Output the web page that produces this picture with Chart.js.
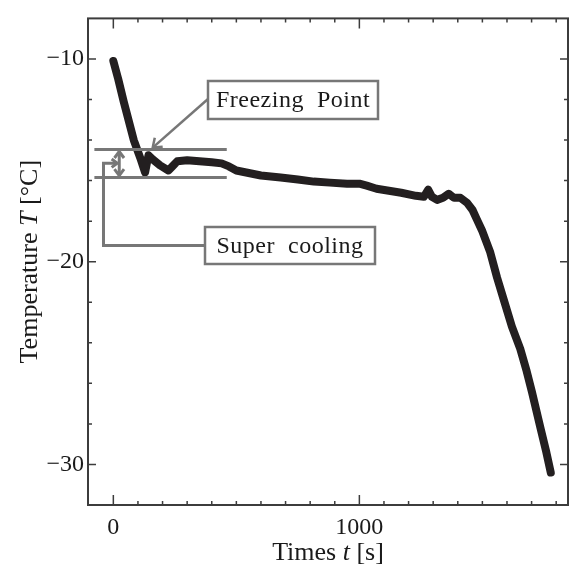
<!DOCTYPE html>
<html>
<head>
<meta charset="utf-8">
<script src="https://cdn.jsdelivr.net/npm/chart.js@4.4.1/dist/chart.umd.min.js"></script>
<style>
  html, body { margin: 0; padding: 0; background: #fff; }
  #wrap { width: 571px; height: 567px; }
</style>
</head>
<body>
<div id="wrap"><canvas id="tempChart" width="571" height="567"></canvas></div>
<script>
// Cooling curve data
const times = [0, 20, 42, 83, 110, 129, 137, 143, 160, 190, 224, 240, 260, 300, 350, 400, 440, 470, 500,
    540, 600, 680, 750, 815, 880, 950, 1000, 1030, 1070, 1120, 1170, 1230, 1262, 1280, 1295, 1316,
    1340, 1363, 1385, 1411, 1438, 1460, 1477, 1500, 1531, 1560, 1590, 1620, 1654, 1680, 1701, 1736, 1760, 1778];
const temps = [-10.1, -11.0, -12.1, -14.0, -14.9, -15.6, -15.1, -14.75, -14.95, -15.25, -15.5, -15.3, -15.05,
    -15.0, -15.05, -15.1, -15.15, -15.3, -15.5, -15.6, -15.75, -15.85, -15.95, -16.05, -16.1, -16.15,
    -16.15, -16.25, -16.4, -16.5, -16.6, -16.75, -16.8, -16.45, -16.8, -16.95, -16.85, -16.65, -16.85,
    -16.85, -17.1, -17.45, -17.9, -18.5, -19.5, -20.8, -22.0, -23.2, -24.3, -25.4, -26.4, -28.2, -29.4, -30.4];

const xMajorLabels = [0, 1000];
const yMajorLabels = [-10, -20, -30];

// annotation anchors (data units)
const freezingT = -14.47;
const superT = -15.85;
const refLineFrom = -77;
const refLineTo = 461;

const AXIS_COLOR = '#3c3c3c';
const NOTE_COLOR = '#777777';
const SERIF = '"Liberation Serif", "DejaVu Serif", serif';

function minusLabel(v) {
    return v < 0 ? '\u2212' + Math.abs(v) : String(v);
}

// frame, inward ticks, titles and annotations
const decorations = {
    id: 'decorations',
    afterDraw(chart) {
        const ctx = chart.ctx;
        const area = chart.chartArea;
        const xs = chart.scales.x;
        const ys = chart.scales.y;

        ctx.save();
        ctx.strokeStyle = AXIS_COLOR;
        ctx.lineWidth = 2;
        ctx.strokeRect(area.left, area.top, area.right - area.left, area.bottom - area.top);

        ctx.lineWidth = 1.5;
        ctx.beginPath();
        for (let t = 0; t <= 1800; t += 100) {
            const px = xs.getPixelForValue(t);
            const len = xMajorLabels.includes(t) ? 10 : 4;
            ctx.moveTo(px, area.bottom); ctx.lineTo(px, area.bottom - len);
            ctx.moveTo(px, area.top); ctx.lineTo(px, area.top + len);
        }
        for (let v = -30; v <= -10; v += 2) {
            const py = ys.getPixelForValue(v);
            const len = yMajorLabels.includes(v) ? 8 : 4;
            ctx.moveTo(area.left, py); ctx.lineTo(area.left + len, py);
            ctx.moveTo(area.right, py); ctx.lineTo(area.right - len, py);
        }
        ctx.stroke();

        // axis titles with italic symbols
        ctx.fillStyle = '#1a1a1a';
        ctx.textBaseline = 'middle';
        function drawParts(parts, cx, cy) {
            let total = 0;
            parts.forEach(p => { ctx.font = p[1] + ' 26px ' + SERIF; total += ctx.measureText(p[0]).width; });
            let x = cx - total / 2;
            ctx.textAlign = 'left';
            parts.forEach(p => {
                ctx.font = p[1] + ' 26px ' + SERIF;
                ctx.fillText(p[0], x, cy);
                x += ctx.measureText(p[0]).width;
            });
        }
        drawParts([['Times ', 'normal'], ['t', 'italic'], [' [s]', 'normal']], (area.left + area.right) / 2, 553);
        ctx.save();
        ctx.translate(30, (area.top + area.bottom) / 2);
        ctx.rotate(-Math.PI / 2);
        drawParts([['Temperature ', 'normal'], ['T', 'italic'], [' [\u00B0C]', 'normal']], 0, 0);
        ctx.restore();

        // annotation lines
        ctx.strokeStyle = NOTE_COLOR;
        ctx.fillStyle = NOTE_COLOR;
        ctx.lineWidth = 3;
        const x0 = xs.getPixelForValue(refLineFrom);
        const x1 = xs.getPixelForValue(refLineTo);
        const yF = ys.getPixelForValue(freezingT);
        const yS = ys.getPixelForValue(superT);
        ctx.beginPath();
        ctx.moveTo(x0, yF); ctx.lineTo(x1, yF);
        ctx.moveTo(x0, yS); ctx.lineTo(x1, yS);
        ctx.stroke();

        function chevron(tx, ty, ang, size) {
            ctx.beginPath();
            ctx.moveTo(tx + size * Math.cos(ang + 2.5), ty + size * Math.sin(ang + 2.5));
            ctx.lineTo(tx, ty);
            ctx.lineTo(tx + size * Math.cos(ang - 2.5), ty + size * Math.sin(ang - 2.5));
            ctx.stroke();
        }

        // double arrow between the two lines
        const xa = xs.getPixelForValue(24);
        ctx.beginPath();
        ctx.moveTo(xa, yF + 2); ctx.lineTo(xa, yS - 2);
        ctx.stroke();
        chevron(xa, yF + 2, -Math.PI / 2, 8);
        chevron(xa, yS - 2, Math.PI / 2, 8);

        // bracket leading to the super cooling box
        const xb = xs.getPixelForValue(-40);
        const yb = ys.getPixelForValue(-15.14);
        const boxS = { l: 205, t: 227, r: 375, b: 264 };
        const yBoxS = (boxS.t + boxS.b) / 2;
        ctx.beginPath();
        ctx.moveTo(xa - 2, yb); ctx.lineTo(xb, yb);
        ctx.lineTo(xb, yBoxS); ctx.lineTo(boxS.l, yBoxS);
        ctx.stroke();
        chevron(xa - 2, yb, 0, 7);

        // boxes with text
        const boxF = { l: 208, t: 81, r: 378, b: 119 };
        ctx.lineWidth = 2.5;
        [boxF, boxS].forEach(b => ctx.strokeRect(b.l, b.t, b.r - b.l, b.b - b.t));

        // arrow from freezing box to the peak
        const tipX = xs.getPixelForValue(160);
        const tipY = yF - 2;
        ctx.beginPath();
        ctx.moveTo(boxF.l, 99); ctx.lineTo(tipX, tipY);
        ctx.stroke();
        chevron(tipX, tipY, Math.atan2(tipY - 99, tipX - boxF.l), 10);

        ctx.fillStyle = '#1a1a1a';
        ctx.font = '24px ' + SERIF;
        ctx.textAlign = 'center';
        ctx.textBaseline = 'middle';
        ctx.letterSpacing = '0.5px';
        ctx.fillText('Freezing  Point', (boxF.l + boxF.r) / 2, (boxF.t + boxF.b) / 2 + 1);
        ctx.fillText('Super  cooling', (boxS.l + boxS.r) / 2, yBoxS + 1);
        ctx.restore();
    }
};

const ctx = document.getElementById('tempChart').getContext('2d');
new Chart(ctx, {
    type: 'line',
    data: {
        datasets: [{
            data: times.map((t, i) => ({ x: t, y: temps[i] })),
            borderColor: '#231f20',
            borderWidth: 8,
            borderCapStyle: 'round',
            borderJoinStyle: 'round',
            pointRadius: 0,
            tension: 0,
            fill: false
        }]
    },
    options: {
        responsive: false,
        animation: false,
        layout: { padding: { left: 0, right: 3, top: 13, bottom: 0 } },
        plugins: { legend: { display: false }, tooltip: { enabled: false } },
        scales: {
            x: {
                type: 'linear',
                min: -103,
                max: 1848,
                grid: { display: false, drawTicks: false },
                border: { display: false },
                afterFit: s => { s.height = 62; },
                ticks: {
                    stepSize: 100,
                    includeBounds: false,
                    autoSkip: false,
                    maxRotation: 0,
                    padding: 8,
                    color: '#1a1a1a',
                    font: { family: SERIF, size: 24 },
                    callback: v => xMajorLabels.includes(v) ? minusLabel(v) : ''
                }
            },
            y: {
                min: -32,
                max: -8,
                grid: { display: false, drawTicks: false },
                border: { display: false },
                afterFit: s => { s.width = 88; },
                ticks: {
                    stepSize: 2,
                    autoSkip: false,
                    padding: 4,
                    color: '#1a1a1a',
                    font: { family: SERIF, size: 24 },
                    callback: v => yMajorLabels.includes(v) ? minusLabel(v) : ''
                }
            }
        }
    },
    plugins: [decorations]
});
</script>
</body>
</html>
